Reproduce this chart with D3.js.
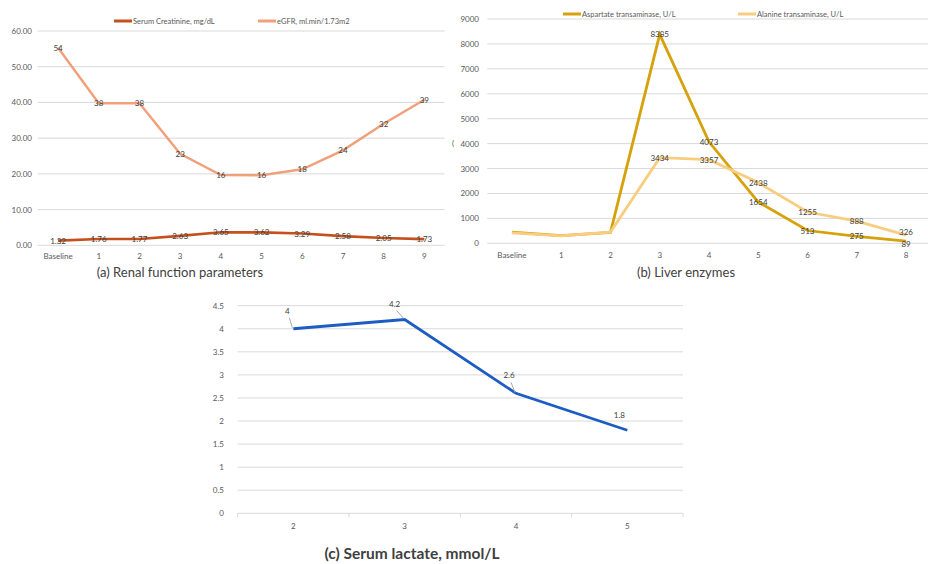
<!DOCTYPE html>
<html>
<head>
<meta charset="utf-8">
<script src="https://cdn.jsdelivr.net/npm/d3@7"></script>
<style>
  html, body { margin: 0; padding: 0; background: #fff; }
  svg { display: block; font-family: Lato, "Open Sans", sans-serif; }
</style>
</head>
<body>
<svg id="chart" width="928" height="564"></svg>
<script>
// ---- Renal function (stacked line: eGFR sits on top of creatinine) ----
const renalVisits = ["Baseline", "1", "2", "3", "4", "5", "6", "7", "8", "9"];
const creatinine = [1.32, 1.76, 1.77, 2.63, 3.65, 3.62, 3.29, 2.58, 2.05, 1.73];
const egfr = [54, 38, 38, 23, 16, 16, 18, 24, 32, 39];
const renalTicks = [0, 10, 20, 30, 40, 50, 60];

// ---- Liver enzymes ----
const liverVisits = ["Baseline", "1", "2", "3", "4", "5", "6", "7", "8"];
const ast = [450, 310, 440, 8385, 4073, 1654, 513, 275, 89];
const alt = [420, 300, 450, 3434, 3357, 2438, 1255, 888, 326];
const astLabelled = [false, false, false, true, true, true, true, true, true];
const altLabelled = [false, false, false, true, true, true, true, true, true];
const liverTicks = [0, 1000, 2000, 3000, 4000, 5000, 6000, 7000, 8000, 9000];

// ---- Serum lactate ----
const lactateVisits = ["2", "3", "4", "5"];
const lactate = [4, 4.2, 2.6, 1.8];
const lactateTicks = [0, 0.5, 1, 1.5, 2, 2.5, 3, 3.5, 4, 4.5];

const svg = d3.select("#chart");
const gridColor = "#d9d9d9";
const tickColor = "#595959";
const labelColor = "#404040";

function bandCenter(scale) {
  return d => scale(d) + scale.bandwidth() / 2;
}

function gridAndAxis(g, y, ticks, x0, x1, labelX, fmt) {
  g.selectAll(null).data(ticks).join("line")
    .attr("x1", x0).attr("x2", x1)
    .attr("y1", d => y(d)).attr("y2", d => y(d))
    .attr("stroke", gridColor).attr("stroke-width", 1);
  g.selectAll(null).data(ticks).join("text")
    .attr("x", labelX).attr("y", d => y(d) + 3)
    .attr("text-anchor", "end")
    .attr("font-size", 8).attr("fill", tickColor)
    .text(fmt);
}

function categoryLabels(g, cats, cx, yPos) {
  g.selectAll(null).data(cats).join("text")
    .attr("x", d => cx(d)).attr("y", yPos)
    .attr("text-anchor", "middle")
    .attr("font-size", 8).attr("fill", tickColor)
    .text(d => d);
}

function legendItem(g, x, y, color, label) {
  g.append("line").attr("x1", x).attr("x2", x + 18)
    .attr("y1", y).attr("y2", y)
    .attr("stroke", color).attr("stroke-width", 3);
  g.append("text").attr("x", x + 19).attr("y", y + 2.5)
    .attr("font-size", 7.5).attr("fill", tickColor).text(label);
}

// ===================== (a) Renal function parameters =====================
{
  const g = svg.append("g");
  const x = d3.scaleBand().domain(renalVisits).range([37.7, 444.7]);
  const cx = bandCenter(x);
  const y = d3.scaleLinear().domain([0, 60]).range([245.3, 31]);
  gridAndAxis(g, y, renalTicks, 37.7, 444.7, 32, d3.format(".2f"));
  categoryLabels(g, renalVisits, cx, 259);

  const creatPts = renalVisits.map((c, i) => ({ c, v: creatinine[i], top: creatinine[i] }));
  const egfrPts = renalVisits.map((c, i) => ({ c, v: egfr[i], top: creatinine[i] + egfr[i] }));

  const line = d3.line().x(d => cx(d.c)).y(d => y(d.top));
  g.append("path").datum(creatPts).attr("d", line)
    .attr("fill", "none").attr("stroke", "#c4501b").attr("stroke-width", 2.6);
  g.append("path").datum(egfrPts).attr("d", line)
    .attr("fill", "none").attr("stroke", "#f0a07a").attr("stroke-width", 2.4);

  g.selectAll(null).data(creatPts.concat(egfrPts)).join("text")
    .attr("x", d => cx(d.c)).attr("y", d => y(d.top) + 3)
    .attr("text-anchor", "middle").attr("font-size", 8).attr("fill", labelColor)
    .text(d => d.v < 10 ? d3.format(".2f")(d.v) : d.v);

  legendItem(g, 114, 21, "#c4501b", "Serum Creatinine, mg/dL");
  legendItem(g, 258, 21, "#f0a07a", "eGFR, ml.min/1.73m2");

  g.append("text").attr("x", 180).attr("y", 277)
    .attr("text-anchor", "middle").attr("font-size", 13).attr("fill", labelColor)
    .text("(a) Renal function parameters");
}

// ===================== (b) Liver enzymes =====================
{
  const g = svg.append("g");
  const x = d3.scaleBand().domain(liverVisits).range([487.3, 930.7]);
  const cx = bandCenter(x);
  const y = d3.scaleLinear().domain([0, 9000]).range([243.3, 19]);
  gridAndAxis(g, y, liverTicks, 487.3, 930.7, 479, d => d);
  categoryLabels(g, liverVisits, cx, 258);

  const last = liverVisits.length - 1;
  // the two end labels sit close together, so spread them apart a little
  const astPts = liverVisits.map((c, i) => ({ c, v: ast[i], show: astLabelled[i], nudge: i === last ? 2.5 : 0 }));
  const altPts = liverVisits.map((c, i) => ({ c, v: alt[i], show: altLabelled[i], nudge: i === last ? -3 : 0 }));
  const line = d3.line().x(d => cx(d.c)).y(d => y(d.v));

  g.append("path").datum(astPts).attr("d", line)
    .attr("fill", "none").attr("stroke", "#d6a20c").attr("stroke-width", 2.8);
  g.append("path").datum(altPts).attr("d", line)
    .attr("fill", "none").attr("stroke", "#f8cd80").attr("stroke-width", 2.8);

  g.selectAll(null).data(astPts.concat(altPts).filter(d => d.show)).join("text")
    .attr("x", d => cx(d.c)).attr("y", d => y(d.v) + 3 + d.nudge)
    .attr("text-anchor", "middle").attr("font-size", 8).attr("fill", labelColor)
    .text(d => d.v);

  legendItem(g, 563, 14, "#d6a20c", "Aspartate transaminase, U/L");
  legendItem(g, 738, 14, "#f8cd80", "Alanine transaminase, U/L");

  g.append("text").attr("x", 453).attr("y", 146)
    .attr("text-anchor", "middle").attr("font-size", 8).attr("fill", tickColor).text("(");

  g.append("text").attr("x", 686).attr("y", 277)
    .attr("text-anchor", "middle").attr("font-size", 13).attr("fill", labelColor)
    .text("(b) Liver enzymes");
}

// ===================== (c) Serum lactate =====================
{
  const g = svg.append("g");
  const x = d3.scaleBand().domain(lactateVisits).range([237.7, 683]);
  const cx = bandCenter(x);
  const y = d3.scaleLinear().domain([0, 4.5]).range([513.3, 305.7]);
  gridAndAxis(g, y, lactateTicks, 237.7, 683, 224, d => d);

  // tick marks at category boundaries along the base axis
  const bounds = lactateVisits.map(c => x(c)).concat([x.range()[1]]);
  g.selectAll(null).data(bounds).join("line")
    .attr("x1", d => d).attr("x2", d => d)
    .attr("y1", y(0)).attr("y2", y(0) + 4)
    .attr("stroke", gridColor).attr("stroke-width", 1);
  categoryLabels(g, lactateVisits, cx, 529);

  const pts = lactateVisits.map((c, i) => ({ c, v: lactate[i] }));
  g.append("path").datum(pts)
    .attr("d", d3.line().x(d => cx(d.c)).y(d => y(d.v)))
    .attr("fill", "none").attr("stroke", "#1d5cc2").attr("stroke-width", 2.8);

  // label offsets (dx, dy) and whether a leader line is shown
  const offsets = [[-6, -15, true], [-10, -13, true], [-7, -15, true], [-8, -12, false]];
  const lab = g.selectAll(null).data(pts).join("g");
  lab.filter((d, i) => offsets[i][2]).append("line")
    .attr("x1", (d, i) => cx(d.c) + offsets[i][0] + 2)
    .attr("y1", (d, i) => y(d.v) + offsets[i][1] + 4)
    .attr("x2", d => cx(d.c) - 1)
    .attr("y2", d => y(d.v) - 1)
    .attr("stroke", "#a6a6a6").attr("stroke-width", 1);
  lab.append("text")
    .attr("x", (d, i) => cx(d.c) + offsets[i][0])
    .attr("y", (d, i) => y(d.v) + offsets[i][1])
    .attr("text-anchor", "middle").attr("font-size", 8).attr("fill", labelColor)
    .text(d => d.v);

  g.append("text").attr("x", 412).attr("y", 559)
    .attr("text-anchor", "middle").attr("font-size", 15.5).attr("font-weight", "bold")
    .attr("fill", labelColor)
    .text("(c) Serum lactate, mmol/L");
}
</script>
</body>
</html>
